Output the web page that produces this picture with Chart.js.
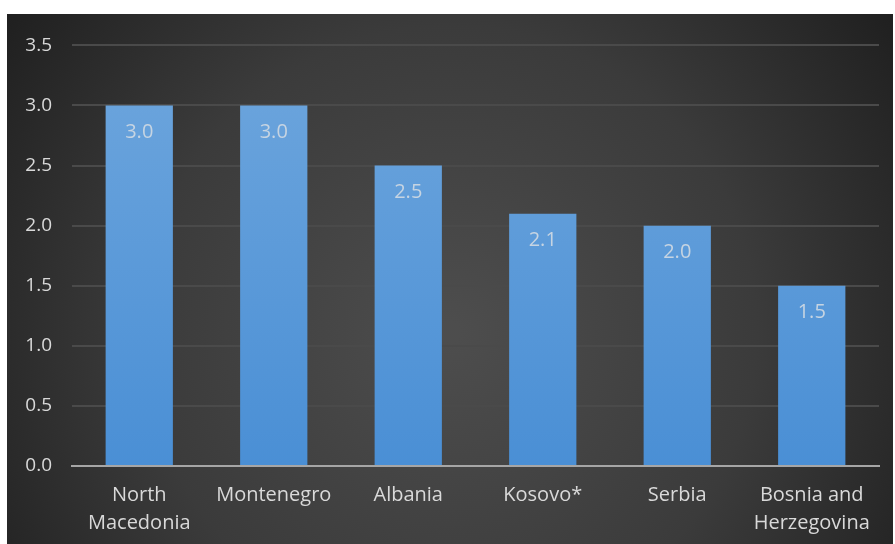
<!DOCTYPE html>
<html>
<head>
<meta charset="utf-8">
<script src="https://cdn.jsdelivr.net/npm/chart.js@4/dist/chart.umd.min.js"></script>
<style>
  html, body { margin: 0; padding: 0; background: #ffffff; }
  #wrap { position: absolute; left: 7px; top: 14px; width: 886px; height: 530px; }
</style>
</head>
<body>
<div id="wrap"><canvas id="barChart"></canvas></div>
<script>
const categories = [["North", "Macedonia"], "Montenegro", "Albania", "Kosovo*", "Serbia", ["Bosnia and", "Herzegovina"]];
const values = [3.0, 3.0, 2.5, 2.1, 2.0, 1.5];
const yTicks = [0, 0.5, 1.0, 1.5, 2.0, 2.5, 3.0, 3.5];

const FONT = "'Open Sans', Lato, sans-serif";

// dark radial background behind everything
const backdrop = {
    id: "backdrop",
    beforeDraw(chart) {
        const { ctx, width, height } = chart;
        const g = ctx.createRadialGradient(width * 0.5, height * 0.6, 10, width * 0.5, height * 0.6, width * 0.62);
        g.addColorStop(0, "#4d4d4d");
        g.addColorStop(0.55, "#3b3b3b");
        g.addColorStop(1, "#1f1f1f");
        ctx.save();
        ctx.fillStyle = g;
        ctx.fillRect(0, 0, width, height);
        ctx.restore();
    },
};

// value labels inside the top of each bar
const valueLabels = {
    id: "valueLabels",
    afterDatasetsDraw(chart) {
        const { ctx } = chart;
        const meta = chart.getDatasetMeta(0);
        ctx.save();
        ctx.font = "20px " + FONT;
        ctx.fillStyle = "#c6d4e2";
        ctx.textAlign = "center";
        ctx.textBaseline = "middle";
        meta.data.forEach((bar, i) => {
            ctx.fillText(values[i].toFixed(1), bar.x, bar.y + 27);
        });
        ctx.restore();
    },
};

const ctx = document.getElementById("barChart").getContext("2d");
new Chart(ctx, {
    type: "bar",
    data: {
        labels: categories,
        datasets: [
            {
                data: values,
                backgroundColor: (c) => {
                    const area = c.chart.chartArea;
                    if (!area) return "#5b9bd5";
                    const g = c.chart.ctx.createLinearGradient(0, area.top, 0, area.bottom);
                    g.addColorStop(0, "#6ea6dd");
                    g.addColorStop(1, "#4a8fd5");
                    return g;
                },
                borderWidth: 0,
                barPercentage: 0.5,
                categoryPercentage: 1.0,
            },
        ],
    },
    options: {
        responsive: true,
        maintainAspectRatio: false,
        animation: false,
        layout: { autoPadding: false, padding: { top: 26, right: 14, left: 0, bottom: 0 } },
        plugins: {
            legend: { display: false },
            tooltip: { enabled: false },
        },
        scales: {
            x: {
                grid: { display: false, drawTicks: false },
                border: { color: "#a6a6a6", width: 2 },
                ticks: {
                    color: "#d9d9d9",
                    font: { family: FONT, size: 20, lineHeight: 1.4 },
                    padding: 15,
                    maxRotation: 0,
                    autoSkip: false,
                },
                afterFit(axis) { axis.height = 78; },
            },
            y: {
                min: 0,
                max: 3.5,
                afterBuildTicks(axis) { axis.ticks = yTicks.map((v) => ({ value: v })); },
                grid: { color: "#4a4a4a", lineWidth: 2, drawTicks: false },
                border: { display: false },
                ticks: {
                    color: "#d9d9d9",
                    font: { family: FONT, size: 19 },
                    padding: 20,
                    callback: (v) => Number(v).toFixed(1),
                },
                afterFit(axis) { axis.width = 65; },
            },
        },
    },
    plugins: [backdrop, valueLabels],
});
</script>
</body>
</html>
